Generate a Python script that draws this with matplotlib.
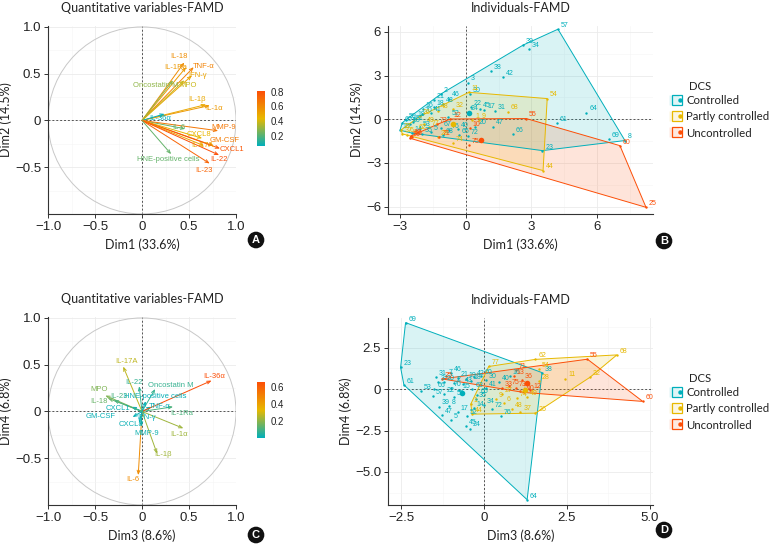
import matplotlib
matplotlib.use("Agg")
import matplotlib.pyplot as plt
import numpy as np
from matplotlib.colors import LinearSegmentedColormap, Normalize
from matplotlib.lines import Line2D
from matplotlib.legend_handler import HandlerTuple
from matplotlib.patches import Circle, Polygon

# ------------------------------------------------------------------ data
var_names = ["IL-18", "IL-1Ra", "TNF-α", "IFN-γ", "Oncostatin M", "MPO", "IL-1β", "IL-1α",
             "IL-36α", "IL-6", "MMP-9", "CXCL8", "GM-CSF", "CXCL1", "IL-17A", "IL-22", "IL-23",
             "HNE-positive cells"]
dim1 = [0.45, 0.47, 0.55, 0.53, 0.33, 0.45, 0.68, 0.72, 0.24, 0.46, 0.81, 0.64, 0.76, 0.83, 0.66, 0.82, 0.72, 0.31]
dim2 = [0.62, 0.57, 0.57, 0.48, 0.43, 0.43, 0.17, 0.16, 0.07, -0.09, -0.11, -0.19, -0.27, -0.30, -0.27, -0.37, -0.46, -0.36]
dim3 = [-0.36, 0.33, 0.10, 0.03, 0.14, -0.39, 0.16, 0.44, 0.74, -0.04, -0.01, -0.03, -0.10, -0.11, -0.20, -0.03, -0.30, 0.04]
dim4 = [0.14, 0.05, 0.05, -0.03, 0.24, 0.17, -0.45, -0.18, 0.33, -0.68, -0.16, -0.12, -0.06, 0.05, 0.48, 0.27, 0.12, 0.11]

groups = ["Controlled", "Partly controlled", "Uncontrolled"]

# Individuals, Dim1 / Dim2
b_ctrl_ids = ["57", "39", "34", "38", "42", "3", "30", "2", "46", "21", "43", "16", "18", "70", "41", "19", "59", "51",
              "60", "50", "15", "14", "53", "35", "5", "63", "67", "52", "76", "40", "65", "72", "22", "45", "17", "31",
              "24", "20", "47", "66", "23", "61", "64", "69", "8"]
b_ctrl_x = [4.21, 2.63, 2.89, 1.16, 1.69, 0.12, 0.20, -1.13, -0.78, -1.45, -1.05, -1.95, -1.45, -2.00, -1.60, -2.35, -2.75, -2.40,
            -2.90, -2.55, -3.00, -2.45, -2.10, -2.00, -1.60, -1.05, -1.15, -0.79, -0.75, -0.35, -0.30, 0.10, 0.24, 0.67, 0.85, 1.33,
            0.09, 0.44, 1.24, 2.15, 3.50, 4.18, 5.51, 6.55, 7.27]
b_ctrl_y = [6.18, 5.10, 4.81, 3.34, 2.88, 2.52, 1.70, 1.74, 1.42, 1.30, 1.05, 0.70, 0.85, 0.35, 0.45, 0.05, -0.05, -0.20,
            -0.25, -0.35, -0.75, -0.95, -0.60, -1.00, -0.90, -1.10, -0.60, 0.18, -0.75, -0.70, -1.10, -1.15, 0.82, 0.69, 0.64, 0.59,
            0.46, -0.50, -0.50, -1.03, -2.15, -0.23, 0.46, -1.37, -1.46]
b_part_ids = ["11", "54", "44", "68", "32", "48", "1", "9", "74", "28", "37", "6", "27", "26", "49", "62", "77"]
b_part_x = [0.14, 3.72, 3.53, 1.92, -0.60, -1.28, 0.30, 0.60, -0.60, -1.28, -2.90, -2.70, -2.95, -2.10, -1.90, -2.30, -1.70]
b_part_y = [1.85, 1.42, -3.52, 0.53, 0.69, 0.60, -0.05, -0.05, -1.60, -1.19, -1.00, -1.05, -0.73, 0.20, -0.30, -0.80, -0.55]
b_unc_ids = ["25", "60", "55", "12", "73", "10", "75", "71", "33", "36", "56"]
b_unc_x = [8.23, 7.04, 2.76, -0.70, -1.30, 0.20, 0.14, -1.20, -2.50, -2.45, -2.55]
b_unc_y = [-6.04, -1.81, 0.05, 0.02, -0.35, -0.60, -1.76, -1.20, -1.15, -1.25, -1.30]

# Individuals, Dim3 / Dim4
d_ctrl_ids = ["69", "23", "61", "53", "57", "31", "3", "20", "7", "46", "21", "19", "42", "18", "60", "30", "66", "70",
              "22", "59", "39", "8", "47", "5", "17", "52", "45", "24", "35", "34", "72", "76", "40", "16", "41", "64",
              "38", "15", "14", "43", "2", "63", "65"]
d_ctrl_x = [-2.37, -2.52, -2.42, -1.90, -1.55, -1.45, -1.40, -1.22, -1.15, -1.00, -0.78, -0.55, -0.30, -0.40, -0.08, 0.05,
            -1.50, -1.00, -1.20, -0.90, -1.35, -1.05, -1.28, -1.00, -0.80, -0.52, -0.55, -0.42, -0.25, 0.00, 0.25, 0.50,
            0.45, 0.78, 0.05, 1.30, 1.75, -0.75, -0.30, -0.65, -0.90, -0.35, -0.20]
d_ctrl_y = [4.02, 1.31, 0.26, -0.10, -0.40, 0.72, 0.42, 0.42, 0.80, 0.98, 0.68, 0.62, 0.72, 0.48, 0.78, 0.55,
            0.02, 0.08, -0.30, -0.50, -1.05, -1.00, -1.55, -1.85, -1.40, -1.62, -2.25, -2.38, -0.60, -0.95, -1.20, -1.65,
            0.45, 0.78, 0.05, -6.68, 1.00, -0.05, -1.15, 0.30, 0.35, 0.00, -0.35]
d_part_ids = ["68", "32", "11", "62", "54", "77", "28", "49", "26", "37", "48", "6", "9", "27", "74", "44", "1"]
d_part_x = [4.01, 3.20, 2.45, 1.55, 1.65, 0.14, 1.65, 1.30, 1.55, 1.10, 0.85, 0.60, 0.35, 0.55, 1.00, -0.36, -0.40]
d_part_y = [2.07, 0.72, 0.64, 1.80, 1.20, 1.37, 0.50, -0.45, -1.45, -1.40, -1.20, -0.85, -0.60, -0.30, -0.55, -1.51, -0.90]
d_unc_ids = ["55", "60", "71", "13", "25", "75", "36", "12", "10", "56", "73", "33"]
d_unc_x = [3.12, 4.79, 0.95, 0.90, -1.27, 0.75, 1.15, 1.40, 1.20, 1.10, 0.95, 0.55]
d_unc_y = [1.81, -0.74, 1.17, 0.80, 0.62, 0.20, 0.55, -0.05, -0.20, -0.10, 0.05, 0.05]

# ------------------------------------------------------------------ style
GRAD = ["#00AFBB", "#E7B800", "#FC4E07"]
GROUP_COLORS = ["#00AFBB", "#E7B800", "#FC4E07"]
cmap = LinearSegmentedColormap.from_list("famd", GRAD)
TICK_FONT = "Liberation Sans"
TEXT_FONT = "Lato"
DARK = "#222222"

# label nudges (data units) for the variable plots
nudge_a = {"IL-18": (-0.06, 0.06), "IL-1Ra": (-0.11, 0.0), "TNF-α": (0.11, 0.01), "IFN-γ": (0.06, 0.0),
           "Oncostatin M": (-0.18, -0.055), "MPO": (0.04, -0.055), "IL-1β": (-0.10, 0.055), "IL-1α": (0.05, -0.035),
           "IL-36α": (-0.05, -0.05), "IL-6": (-0.07, 0.02), "MMP-9": (0.06, 0.04), "CXCL8": (-0.03, 0.04),
           "GM-CSF": (0.115, 0.06), "CXCL1": (0.13, -0.01), "IL-17A": (-0.02, 0.0), "IL-22": (0.0, -0.05),
           "IL-23": (-0.06, -0.075), "HNE-positive cells": (-0.03, -0.06)}
nudge_c = {"IL-17A": (0.03, 0.05), "IL-22": (-0.055, 0.04), "Oncostatin M": (0.17, 0.035), "IL-36α": (0.03, 0.04),
           "MPO": (-0.07, 0.06), "IL-18": (-0.10, -0.03), "IL-23": (0.05, 0.04), "HNE-positive cells": (0.10, 0.05),
           "CXCL1": (-0.15, -0.015), "TNF-α": (0.09, 0.005), "IL-1Ra": (0.09, -0.07), "GM-CSF": (-0.335, 0.005),
           "CXCL8": (-0.09, -0.02), "MMP-9": (0.06, -0.08), "IL-1α": (-0.05, -0.07), "IL-1β": (0.065, -0.015),
           "IL-6": (-0.06, -0.05), "IFN-γ": (0.02, -0.03)}

fig = plt.figure(figsize=(7.69, 5.47), dpi=100)
fig.patch.set_facecolor("white")


def style_axes(ax, xticks, yticks, xlabels, ylabels, xminor, yminor):
    for s in ["top", "right"]:
        ax.spines[s].set_visible(False)
    for s in ["left", "bottom"]:
        ax.spines[s].set_color("#333333")
        ax.spines[s].set_linewidth(0.8)
    ax.set_xticks(xticks)
    ax.set_xticklabels(xlabels)
    ax.set_yticks(yticks)
    ax.set_yticklabels(ylabels)
    ax.set_xticks(xminor, minor=True)
    ax.set_yticks(yminor, minor=True)
    ax.tick_params(which="major", direction="out", length=3, width=0.7, color="#333333",
                   labelsize=9.5, labelcolor=DARK, pad=2)
    ax.tick_params(which="minor", length=0)
    for lab in ax.get_xticklabels() + ax.get_yticklabels():
        lab.set_fontfamily(TICK_FONT)
    ax.grid(True, which="major", color="#EBEBEB", lw=0.6, zorder=0)
    ax.grid(True, which="minor", color="#F5F5F5", lw=0.4, zorder=0)
    ax.set_axisbelow(True)
    ax.axhline(0, color="#555555", lw=0.7, ls=(0, (2, 2)), zorder=1)
    ax.axvline(0, color="#555555", lw=0.7, ls=(0, (2, 2)), zorder=1)


def var_panel(rect, cbrect, xs, ys, nudges, xlabel, ylabel, cbticks):
    ax = fig.add_axes(rect)
    ax.set_xlim(-1, 1)
    ax.set_ylim(-1, 1.01)
    style_axes(ax, [-1, -0.5, 0, 0.5, 1.0], [-0.5, 0, 0.5, 1.0],
               ["\u22121.0", "\u22120.5", "0", "0.5", "1.0"], ["\u22120.5", "0", "0.5", "1.0"],
               [-0.75, -0.25, 0.25, 0.75], [-0.75, -0.25, 0.25, 0.75])
    ax.add_patch(Circle((0, 0), 1.0, fill=False, ec="#C8C8C8", lw=0.7, zorder=2))
    xs = np.array(xs)
    ys = np.array(ys)
    cos2 = xs ** 2 + ys ** 2
    norm = Normalize(cos2.min(), cos2.max())
    for name, x, y, c in zip(var_names, xs, ys, cos2):
        col = cmap(norm(c))
        ax.annotate("", xy=(x, y), xytext=(0, 0),
                    arrowprops=dict(arrowstyle="->,head_length=0.25,head_width=0.1", color=col, lw=0.7,
                                    shrinkA=0, shrinkB=0), zorder=3)
        dx, dy = nudges[name]
        ax.text(x + dx, y + dy, name, color=col, fontsize=5.5, ha="center", va="center",
                family="Liberation Sans", zorder=4)
    ax.set_xlabel(xlabel, fontsize=9, family=TEXT_FONT, color=DARK, labelpad=4)
    ax.set_ylabel(ylabel, fontsize=9, family=TEXT_FONT, color=DARK, labelpad=2)
    ax.set_title("Quantitative variables-FAMD", fontsize=9, family=TEXT_FONT, color=DARK, pad=10)
    cax = fig.add_axes(cbrect)
    sm = plt.cm.ScalarMappable(norm=norm, cmap=cmap)
    cb = fig.colorbar(sm, cax=cax)
    cb.outline.set_visible(False)
    cb.set_ticks(cbticks)
    cb.ax.tick_params(length=2, width=0.6, color="white", labelsize=7, labelcolor=DARK, pad=2)
    for lab in cb.ax.get_yticklabels():
        lab.set_fontfamily(TICK_FONT)
    return ax


def hull(px, py):
    pts = sorted(set(zip(px, py)))
    if len(pts) < 3:
        return pts

    def cross(o, a, b):
        return (a[0] - o[0]) * (b[1] - o[1]) - (a[1] - o[1]) * (b[0] - o[0])
    lower, upper = [], []
    for p in pts:
        while len(lower) >= 2 and cross(lower[-2], lower[-1], p) <= 0:
            lower.pop()
        lower.append(p)
    for p in reversed(pts):
        while len(upper) >= 2 and cross(upper[-2], upper[-1], p) <= 0:
            upper.pop()
        upper.append(p)
    return lower[:-1] + upper[:-1]


def ind_panel(rect, data, xlim, ylim, xticks, yticks, xlabs, ylabs, xminor, yminor, xlabel, ylabel, legpos, titlepos):
    ax = fig.add_axes(rect)
    ax.set_xlim(*xlim)
    ax.set_ylim(*ylim)
    style_axes(ax, xticks, yticks, xlabs, ylabs, xminor, yminor)
    for (ids, xs, ys), col in zip(data, GROUP_COLORS):
        poly = hull(xs, ys)
        ax.add_patch(Polygon(poly, closed=True, fc=col, alpha=0.15, ec="none", zorder=2))
        ax.add_patch(Polygon(poly, closed=True, fill=False, ec=col, lw=0.7, zorder=3))
    for (ids, xs, ys), col in zip(data, GROUP_COLORS):
        ax.scatter(xs, ys, s=3, color=col, zorder=4, linewidths=0)
        for i, x, y in zip(ids, xs, ys):
            ax.annotate(i, (x, y), xytext=(2, 1.5), textcoords="offset points", fontsize=5,
                        color=col, family="Liberation Sans", zorder=5)
        ax.scatter([np.mean(xs)], [np.mean(ys)], s=16, color=col, zorder=6, linewidths=0)
    ax.set_xlabel(xlabel, fontsize=9, family=TEXT_FONT, color=DARK, labelpad=4)
    ax.set_ylabel(ylabel, fontsize=9, family=TEXT_FONT, color=DARK, labelpad=2)
    ax.set_title("Individuals-FAMD", fontsize=9, family=TEXT_FONT, color=DARK, pad=10)
    handles = []
    for col in GROUP_COLORS:
        bg = Line2D([], [], ls="none", marker="s", markersize=7.5, markerfacecolor=col, alpha=0.12,
                    markeredgecolor="none")
        sq = Line2D([], [], ls="none", marker="s", markersize=7.5, markerfacecolor=(1, 1, 1, 0),
                    markeredgecolor=col, markeredgewidth=0.9)
        dot = Line2D([], [], ls="none", marker="o", markersize=2.2, color=col)
        handles.append((bg, sq, dot))
    leg = fig.legend(handles, groups, loc="upper left", bbox_to_anchor=legpos,
                     frameon=False, handler_map={tuple: HandlerTuple(ndivide=None, pad=0)},
                     prop={"family": TEXT_FONT, "size": 8.2},
                     handlelength=0.8, handleheight=1.0, handletextpad=0.45, labelspacing=0.48,
                     borderaxespad=0, borderpad=0)
    for t in leg.get_texts():
        t.set_color(DARK)
    fig.text(titlepos[0], titlepos[1], "DCS", fontsize=8.2, family=TEXT_FONT, color=DARK,
             ha="left", va="center")
    return ax


# A
var_panel([48 / 769, 1 - 214 / 547, 188 / 769, 188 / 547], [257 / 769, 1 - 146 / 547, 8 / 769, 55 / 547],
          dim1, dim2, nudge_a, "Dim1 (33.6%)", "Dim2 (14.5%)", [0.2, 0.4, 0.6, 0.8])
# C
var_panel([48 / 769, 1 - 505 / 547, 188 / 769, 188 / 547], [257 / 769, 1 - 438 / 547, 8 / 769, 56 / 547],
          dim3, dim4, nudge_c, "Dim3 (8.6%)", "Dim4 (6.8%)", [0.2, 0.4, 0.6])
# B
ind_panel([388 / 769, 1 - 214 / 547, 265 / 769, 188 / 547],
          [(b_ctrl_ids, b_ctrl_x, b_ctrl_y), (b_part_ids, b_part_x, b_part_y), (b_unc_ids, b_unc_x, b_unc_y)],
          (-3.55, 8.55), (-6.5, 6.4), [-3, 0, 3, 6], [-6, -3, 0, 3, 6],
          ["\u22123", "0", "3", "6"], ["\u22126", "\u22123", "0", "3", "6"],
          [-1.5, 1.5, 4.5, 7.5], [-4.5, -1.5, 1.5, 4.5], "Dim1 (33.6%)", "Dim2 (14.5%)",
          (672 / 769, 1 - 95 / 547), (689 / 769, 1 - 86 / 547))
# D
ind_panel([388 / 769, 1 - 505 / 547, 265 / 769, 187 / 547],
          [(d_ctrl_ids, d_ctrl_x, d_ctrl_y), (d_part_ids, d_part_x, d_part_y), (d_unc_ids, d_unc_x, d_unc_y)],
          (-2.9, 5.1), (-7.0, 4.3), [-2.5, 0, 2.5, 5.0], [-5.0, -2.5, 0, 2.5],
          ["\u22122.5", "0", "2.5", "5.0"], ["\u22125.0", "\u22122.5", "0", "2.5"],
          [-1.25, 1.25, 3.75], [-6.25, -3.75, -1.25, 1.25, 3.75], "Dim3 (8.6%)", "Dim4 (6.8%)",
          (672 / 769, 1 - 387 / 547), (689 / 769, 1 - 378 / 547))

# panel letters
for letter, (px, py) in zip("ABCD", [(256, 240), (664, 241), (256, 535), (664, 530)]):
    fig.text(px / 769, 1 - py / 547, letter, ha="center", va="center", color="white", fontsize=8,
             fontweight="bold", family="Liberation Sans",
             bbox=dict(boxstyle="circle,pad=0.3", fc="#111111", ec="none"))

fig.savefig("out.png", dpi=100)
